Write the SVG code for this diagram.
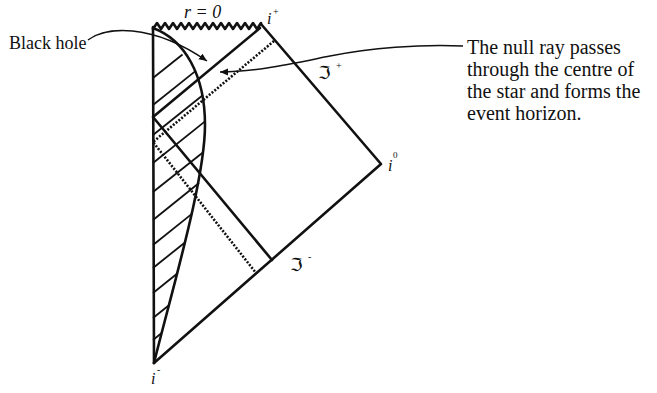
<svg xmlns="http://www.w3.org/2000/svg" width="657" height="393" viewBox="0 0 657 393">
<style>
.edge{fill:none;stroke:#111;stroke-width:2.6;stroke-linecap:round;stroke-linejoin:round}
.hatch{fill:none;stroke:#111;stroke-width:1.8}
.dot{fill:none;stroke:#111;stroke-width:2.6;stroke-dasharray:2 1.6}
.arrow{fill:none;stroke:#111;stroke-width:1.5}
.t{font-family:"Liberation Serif","Times New Roman",serif;fill:#111}
.it{font-family:"Liberation Serif","Times New Roman",serif;font-style:italic;fill:#111}
.fr{font-family:"DejaVu Serif","DejaVu Sans",serif;fill:#111}
</style>
<defs>
<marker id="ah" markerUnits="userSpaceOnUse" markerWidth="10" markerHeight="8" refX="8" refY="3.5" orient="auto">
<path d="M0,0 L8,3.5 L0,7 z" fill="#111"/>
</marker>
</defs>
<rect width="657" height="393" fill="#fff"/>
<g id="diagram-frame">
<path class="edge" d="M153,27 L154,363"/>
<polyline class="edge" points="153,29 157,23 161,29 165,23 169,29 173,23 177,29 181,23 185,29 189,23 193,29 197,23 201,29 205,23 209,29 213,23 217,29 221,23 225,29 229,23 233,29 237,23 241,29 245,23 249,29 253,23 257,29 261,23"/>
<path class="edge" d="M261,24 L381,164 L154,363"/>
</g>
<g id="star">
<path class="edge" d="M153,28 C185,40 205,75 205,125 C205,180 172,290 154,363"/>
<g class="hatch">
<line x1="153" y1="78" x2="182.5" y2="54.5"/>
<line x1="153" y1="105" x2="196" y2="70.6"/>
<line x1="153" y1="135" x2="203" y2="95"/>
<line x1="153" y1="163" x2="205" y2="121.4"/>
<line x1="153" y1="192" x2="203.5" y2="152"/>
<line x1="153" y1="220" x2="199" y2="183"/>
<line x1="153" y1="245" x2="192.5" y2="213.4"/>
<line x1="153" y1="268" x2="184.6" y2="242.7"/>
<line x1="153" y1="293" x2="177" y2="273.8"/>
<line x1="153" y1="318" x2="168.6" y2="305.5"/>
<line x1="153" y1="340" x2="161.7" y2="333"/>
</g>
</g>
<g id="rays">
<path class="edge" d="M260,28 L153,117 L272,260"/>
<path class="dot" d="M274,41 L153,142 L256,273"/>
</g>
<g id="connectors">
<path class="arrow" marker-end="url(#ah)" d="M88,40 C105,27 150,22 207,61"/>
<path class="arrow" marker-end="url(#ah)" d="M463,46 C420,44 370,48 330,56 C290,64 255,72 220,72"/>
</g>
<g id="labels">
<text class="it" x="184" y="18" font-size="18">r = 0</text>
<text class="it" x="267" y="24" font-size="16">i</text>
<text class="t" x="273" y="15" font-size="10">+</text>
<text class="fr" x="318" y="79" font-size="18">ℑ</text>
<text class="t" x="336" y="69" font-size="10">+</text>
<text class="fr" x="290" y="271" font-size="18">ℑ</text>
<text class="t" x="308" y="260" font-size="10">-</text>
<text class="it" x="388" y="171" font-size="16">i</text>
<text class="t" x="393" y="158" font-size="9">0</text>
<text class="it" x="151" y="384" font-size="16">i</text>
<text class="t" x="157" y="373" font-size="10">-</text>
<text class="t" x="9" y="49" font-size="18">Black hole</text>
<text class="t" font-size="20">
<tspan x="467" y="54">The null ray passes</tspan>
<tspan x="467" y="76">through the centre of</tspan>
<tspan x="467" y="98">the star and forms the</tspan>
<tspan x="467" y="120">event horizon.</tspan>
</text>
</g>
</svg>
